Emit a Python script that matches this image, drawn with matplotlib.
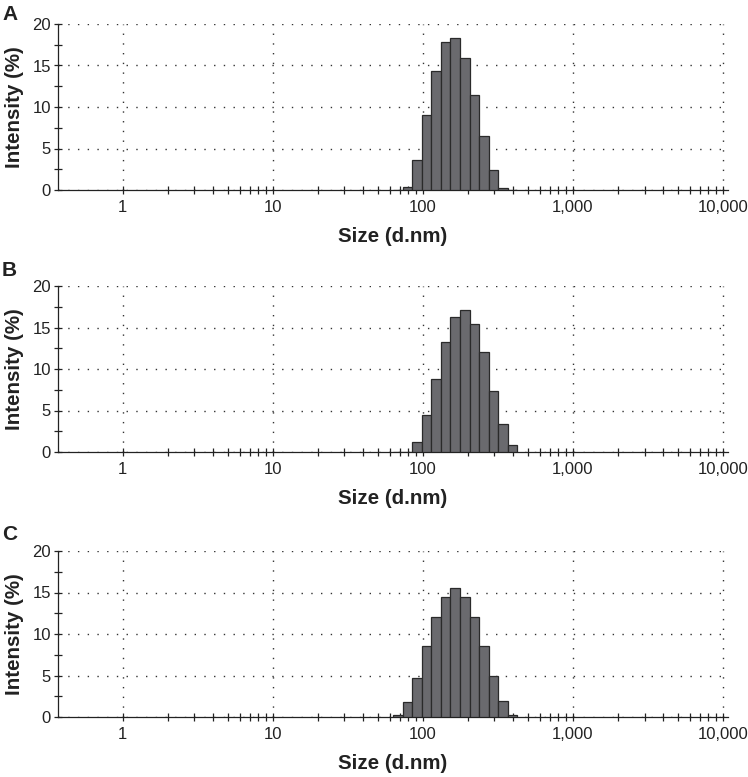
import numpy as np
import matplotlib
matplotlib.use("Agg")
import matplotlib.pyplot as plt
from matplotlib.ticker import FixedLocator, NullFormatter

plt.rcParams['font.family'] = ['Liberation Sans', 'DejaVu Sans']

# Malvern size classes (d.nm) that carry signal
sizes = [68.06, 78.82, 91.28, 105.7, 122.4, 141.8, 164.2, 190.1, 220.2, 255.0, 295.3, 342.0, 396.1]

# intensity (%) per size class
int_a = [0.0, 0.4, 3.6, 9.0, 14.3, 17.8, 18.3, 15.9, 11.5, 6.5, 2.4, 0.3, 0.0]
int_b = [0.0, 0.0, 1.2, 4.4, 8.8, 13.2, 16.3, 17.1, 15.4, 12.0, 7.4, 3.4, 0.8]
int_c = [0.25, 1.8, 4.7, 8.5, 12.1, 14.5, 15.6, 14.5, 12.1, 8.6, 4.9, 1.9, 0.25]

panels = ["A", "B", "C"]
series = [int_a, int_b, int_c]

xticks = [1, 10, 100, 1000, 10000]
xticklabels = ["1", "10", "100", "1,000", "10,000"]

# bar edges: half a log step either side of each class centre
step = np.log10(25000) / 69
centres = np.array(sizes)
left = centres / 10 ** (step / 2)
right = centres * 10 ** (step / 2)

fig = plt.figure(figsize=(7.48, 7.77), dpi=100)
bottoms = [1 - 190 / 777, 1 - 452 / 777, 1 - 717 / 777]
letter_y = [14, 271, 534]

for lab, vals, b, ly in zip(panels, series, bottoms, letter_y):
    ax = fig.add_axes([58 / 748, b, (728 - 58) / 748, 166 / 777])
    ax.set_xscale("log")
    ax.set_axisbelow(True)
    ax.bar(left, vals, width=right - left, align="edge",
           color="#6a6a6e", edgecolor="#2a2a2a", linewidth=0.9, zorder=3)
    ax.set_xlim(0.37, 10800)
    ax.set_ylim(0, 20)

    ax.xaxis.set_major_locator(FixedLocator(xticks))
    ax.set_xticklabels(xticklabels)
    minors = [m * 10 ** e for e in range(0, 4) for m in range(2, 10)]
    ax.xaxis.set_minor_locator(FixedLocator(minors))
    ax.xaxis.set_minor_formatter(NullFormatter())
    ax.set_yticks([0, 5, 10, 15, 20])
    ax.yaxis.set_minor_locator(FixedLocator([2.5, 7.5, 12.5, 17.5]))

    ax.tick_params(which="both", direction="inout", length=6, width=0.9,
                   color="#222222", labelsize=12, labelcolor="#222222")
    ax.tick_params(axis="x", which="major", pad=4)
    ax.tick_params(axis="y", which="major", pad=2)

    for s in ["top", "right"]:
        ax.spines[s].set_visible(False)
    for s in ["left", "bottom"]:
        ax.spines[s].set_linewidth(0.9)
        ax.spines[s].set_color("#222222")

    ax.grid(True, which="major", color="#333333", linestyle=(0, (1, 6)), linewidth=1.0)

    ax.set_xlabel("Size (d.nm)", fontsize=14.8, fontweight="bold", labelpad=9, color="#222222")
    ax.set_ylabel("Intensity (%)", fontsize=14.8, fontweight="bold", color="#222222")
    ax.yaxis.set_label_coords(-0.05, 0.5)

    fig.text(2 / 748, 1 - ly / 777, lab, fontsize=15, fontweight="bold",
             va="center", ha="left", color="#222222")

fig.savefig("out.png", dpi=100)
